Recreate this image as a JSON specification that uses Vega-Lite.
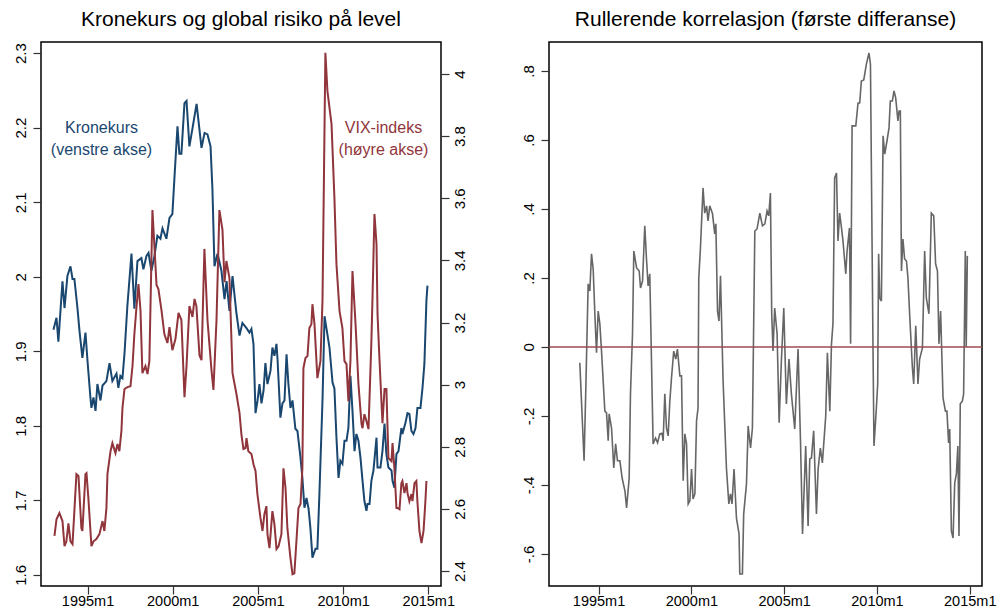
{
  "$schema": "https://vega.github.io/schema/vega-lite/v6.json",
  "background": "white",
  "padding": {"left": 12, "top": 8, "right": 15, "bottom": 0},
  "bounds": "flush",
  "spacing": 108,
  "config": {
    "font": "Liberation Sans",
    "view": {"stroke": "black", "strokeWidth": 1.5},
    "axis": {"grid": false, "domain": false, "tickColor": "#333333", "tickWidth": 1.2, "tickSize": 8, "labelFontSize": 15, "labelColor": "black", "labelFont": "Liberation Sans", "labelOverlap": false, "labelFlush": false, "labelBound": false},
    "axisX": {"labelBaseline": "alphabetic", "labelPadding": 11, "labelFontSize": 14.5},
    "title": {"fontSize": 21, "font": "Liberation Sans", "fontWeight": "normal", "color": "black", "anchor": "middle", "offset": 12}
  },
  "datasets": {
    "kron": [
      {"t":1993.00,"v":1.929},{"t":1993.18,"v":1.945},{"t":1993.29,"v":1.913},{"t":1993.53,"v":1.994},{"t":1993.65,"v":1.958},{"t":1993.82,"v":2.001},{"t":1994.00,"v":2.014},{"t":1994.12,"v":1.997},{"t":1994.23,"v":1.997},{"t":1994.41,"v":1.958},{"t":1994.53,"v":1.927},{"t":1994.70,"v":1.891},{"t":1994.88,"v":1.925},{"t":1995.00,"v":1.887},{"t":1995.17,"v":1.838},{"t":1995.23,"v":1.824},{"t":1995.35,"v":1.838},{"t":1995.47,"v":1.820},{"t":1995.58,"v":1.856},{"t":1995.76,"v":1.834},{"t":1995.88,"v":1.854},{"t":1996.11,"v":1.860},{"t":1996.29,"v":1.884},{"t":1996.46,"v":1.860},{"t":1996.70,"v":1.870},{"t":1996.81,"v":1.851},{"t":1996.93,"v":1.867},{"t":1997.05,"v":1.864},{"t":1997.17,"v":1.897},{"t":1997.34,"v":1.961},{"t":1997.58,"v":2.031},{"t":1997.75,"v":1.957},{"t":1997.93,"v":2.021},{"t":1998.16,"v":2.025},{"t":1998.28,"v":2.010},{"t":1998.46,"v":2.028},{"t":1998.58,"v":2.032},{"t":1998.75,"v":2.008},{"t":1998.93,"v":2.028},{"t":1999.10,"v":2.055},{"t":1999.28,"v":2.051},{"t":1999.40,"v":2.065},{"t":1999.63,"v":2.051},{"t":1999.81,"v":2.079},{"t":1999.98,"v":2.084},{"t":2000.10,"v":2.132},{"t":2000.28,"v":2.202},{"t":2000.39,"v":2.165},{"t":2000.51,"v":2.165},{"t":2000.69,"v":2.233},{"t":2000.81,"v":2.236},{"t":2000.98,"v":2.175},{"t":2001.16,"v":2.199},{"t":2001.40,"v":2.232},{"t":2001.45,"v":2.222},{"t":2001.69,"v":2.173},{"t":2001.87,"v":2.193},{"t":2002.04,"v":2.191},{"t":2002.22,"v":2.175},{"t":2002.33,"v":2.118},{"t":2002.45,"v":2.014},{"t":2002.63,"v":2.031},{"t":2002.86,"v":2.008},{"t":2003.04,"v":1.970},{"t":2003.16,"v":1.994},{"t":2003.33,"v":1.954},{"t":2003.51,"v":2.001},{"t":2003.74,"v":1.951},{"t":2003.92,"v":1.921},{"t":2004.09,"v":1.938},{"t":2004.33,"v":1.931},{"t":2004.50,"v":1.925},{"t":2004.62,"v":1.930},{"t":2004.74,"v":1.910},{"t":2004.86,"v":1.817},{"t":2004.98,"v":1.834},{"t":2005.09,"v":1.856},{"t":2005.21,"v":1.830},{"t":2005.33,"v":1.847},{"t":2005.44,"v":1.884},{"t":2005.56,"v":1.856},{"t":2005.74,"v":1.874},{"t":2005.85,"v":1.905},{"t":2005.97,"v":1.894},{"t":2006.09,"v":1.910},{"t":2006.15,"v":1.890},{"t":2006.32,"v":1.811},{"t":2006.44,"v":1.830},{"t":2006.56,"v":1.834},{"t":2006.68,"v":1.896},{"t":2006.79,"v":1.856},{"t":2006.91,"v":1.824},{"t":2007.03,"v":1.834},{"t":2007.20,"v":1.796},{"t":2007.32,"v":1.793},{"t":2007.50,"v":1.757},{"t":2007.61,"v":1.730},{"t":2007.73,"v":1.690},{"t":2007.85,"v":1.703},{"t":2007.97,"v":1.689},{"t":2008.08,"v":1.663},{"t":2008.20,"v":1.623},{"t":2008.38,"v":1.635},{"t":2008.49,"v":1.635},{"t":2008.61,"v":1.709},{"t":2008.79,"v":1.834},{"t":2008.91,"v":1.947},{"t":2009.02,"v":1.931},{"t":2009.20,"v":1.905},{"t":2009.38,"v":1.858},{"t":2009.49,"v":1.850},{"t":2009.61,"v":1.784},{"t":2009.73,"v":1.730},{"t":2009.84,"v":1.753},{"t":2009.96,"v":1.749},{"t":2010.08,"v":1.780},{"t":2010.20,"v":1.780},{"t":2010.31,"v":1.797},{"t":2010.43,"v":1.867},{"t":2010.55,"v":1.820},{"t":2010.67,"v":1.766},{"t":2010.78,"v":1.789},{"t":2010.90,"v":1.780},{"t":2011.02,"v":1.757},{"t":2011.14,"v":1.726},{"t":2011.25,"v":1.699},{"t":2011.37,"v":1.686},{"t":2011.43,"v":1.695},{"t":2011.55,"v":1.695},{"t":2011.66,"v":1.726},{"t":2011.78,"v":1.740},{"t":2011.96,"v":1.784},{"t":2012.02,"v":1.744},{"t":2012.19,"v":1.744},{"t":2012.31,"v":1.766},{"t":2012.43,"v":1.803},{"t":2012.54,"v":1.762},{"t":2012.66,"v":1.744},{"t":2012.84,"v":1.740},{"t":2012.90,"v":1.726},{"t":2013.01,"v":1.717},{"t":2013.13,"v":1.762},{"t":2013.25,"v":1.766},{"t":2013.42,"v":1.797},{"t":2013.48,"v":1.789},{"t":2013.66,"v":1.804},{"t":2013.78,"v":1.817},{"t":2013.89,"v":1.816},{"t":2014.01,"v":1.793},{"t":2014.13,"v":1.789},{"t":2014.25,"v":1.797},{"t":2014.36,"v":1.824},{"t":2014.54,"v":1.824},{"t":2014.66,"v":1.851},{"t":2014.77,"v":1.883},{"t":2014.89,"v":1.968},{"t":2014.95,"v":1.988}
    ],
    "vix": [
      {"t":1993.06,"v":2.513},{"t":1993.18,"v":2.567},{"t":1993.35,"v":2.587},{"t":1993.53,"v":2.561},{"t":1993.65,"v":2.480},{"t":1993.76,"v":2.496},{"t":1993.88,"v":2.554},{"t":1994.00,"v":2.496},{"t":1994.12,"v":2.487},{"t":1994.35,"v":2.712},{"t":1994.47,"v":2.706},{"t":1994.64,"v":2.538},{"t":1994.70,"v":2.529},{"t":1994.88,"v":2.712},{"t":1994.94,"v":2.715},{"t":1995.05,"v":2.635},{"t":1995.23,"v":2.480},{"t":1995.35,"v":2.496},{"t":1995.52,"v":2.503},{"t":1995.70,"v":2.519},{"t":1995.88,"v":2.561},{"t":1995.99,"v":2.529},{"t":1996.11,"v":2.603},{"t":1996.17,"v":2.712},{"t":1996.35,"v":2.786},{"t":1996.46,"v":2.812},{"t":1996.64,"v":2.780},{"t":1996.76,"v":2.809},{"t":1996.87,"v":2.786},{"t":1996.99,"v":2.851},{"t":1997.05,"v":2.925},{"t":1997.17,"v":2.986},{"t":1997.34,"v":2.992},{"t":1997.52,"v":2.995},{"t":1997.64,"v":3.060},{"t":1997.75,"v":3.163},{"t":1997.87,"v":3.247},{"t":1997.99,"v":3.324},{"t":1998.11,"v":3.237},{"t":1998.22,"v":3.037},{"t":1998.40,"v":3.060},{"t":1998.52,"v":3.034},{"t":1998.63,"v":3.076},{"t":1998.81,"v":3.562},{"t":1999.05,"v":3.321},{"t":1999.16,"v":3.308},{"t":1999.34,"v":3.240},{"t":1999.51,"v":3.163},{"t":1999.69,"v":3.134},{"t":1999.81,"v":3.185},{"t":1999.98,"v":3.111},{"t":2000.16,"v":3.147},{"t":2000.34,"v":3.231},{"t":2000.51,"v":3.208},{"t":2000.69,"v":2.960},{"t":2000.81,"v":3.060},{"t":2000.98,"v":3.253},{"t":2001.16,"v":3.218},{"t":2001.28,"v":3.276},{"t":2001.39,"v":3.253},{"t":2001.57,"v":3.095},{"t":2001.69,"v":3.079},{"t":2001.86,"v":3.437},{"t":2002.04,"v":3.208},{"t":2002.27,"v":3.050},{"t":2002.39,"v":2.983},{"t":2002.57,"v":3.208},{"t":2002.74,"v":3.562},{"t":2002.92,"v":3.498},{"t":2003.04,"v":3.330},{"t":2003.15,"v":3.398},{"t":2003.33,"v":3.343},{"t":2003.51,"v":3.037},{"t":2003.74,"v":2.970},{"t":2003.92,"v":2.909},{"t":2004.03,"v":2.841},{"t":2004.15,"v":2.793},{"t":2004.27,"v":2.796},{"t":2004.33,"v":2.828},{"t":2004.44,"v":2.786},{"t":2004.62,"v":2.777},{"t":2004.74,"v":2.744},{"t":2004.86,"v":2.722},{"t":2004.97,"v":2.648},{"t":2005.15,"v":2.571},{"t":2005.27,"v":2.529},{"t":2005.38,"v":2.583},{"t":2005.50,"v":2.609},{"t":2005.56,"v":2.519},{"t":2005.68,"v":2.474},{"t":2005.85,"v":2.593},{"t":2005.97,"v":2.551},{"t":2006.09,"v":2.471},{"t":2006.21,"v":2.480},{"t":2006.38,"v":2.519},{"t":2006.50,"v":2.731},{"t":2006.62,"v":2.667},{"t":2006.73,"v":2.538},{"t":2006.91,"v":2.442},{"t":2007.03,"v":2.390},{"t":2007.14,"v":2.393},{"t":2007.26,"v":2.496},{"t":2007.38,"v":2.603},{"t":2007.50,"v":2.616},{"t":2007.61,"v":2.731},{"t":2007.67,"v":3.053},{"t":2007.79,"v":3.086},{"t":2007.91,"v":3.092},{"t":2008.02,"v":3.182},{"t":2008.14,"v":3.195},{"t":2008.20,"v":3.259},{"t":2008.32,"v":3.195},{"t":2008.49,"v":3.021},{"t":2008.67,"v":3.076},{"t":2008.79,"v":3.269},{"t":2008.96,"v":4.068},{"t":2009.08,"v":3.945},{"t":2009.32,"v":3.839},{"t":2009.49,"v":3.601},{"t":2009.61,"v":3.388},{"t":2009.79,"v":3.237},{"t":2009.96,"v":3.182},{"t":2010.08,"v":3.076},{"t":2010.20,"v":3.066},{"t":2010.31,"v":2.947},{"t":2010.43,"v":3.076},{"t":2010.55,"v":3.366},{"t":2010.72,"v":3.205},{"t":2010.78,"v":3.140},{"t":2010.90,"v":3.002},{"t":2011.08,"v":2.873},{"t":2011.14,"v":2.860},{"t":2011.25,"v":2.905},{"t":2011.37,"v":2.883},{"t":2011.49,"v":2.857},{"t":2011.66,"v":3.140},{"t":2011.72,"v":3.269},{"t":2011.84,"v":3.549},{"t":2011.96,"v":3.453},{"t":2012.02,"v":3.227},{"t":2012.13,"v":3.086},{"t":2012.31,"v":2.876},{"t":2012.43,"v":2.986},{"t":2012.54,"v":2.986},{"t":2012.66,"v":2.764},{"t":2012.84,"v":2.754},{"t":2012.90,"v":2.812},{"t":2013.01,"v":2.731},{"t":2013.13,"v":2.603},{"t":2013.19,"v":2.603},{"t":2013.31,"v":2.599},{"t":2013.42,"v":2.683},{"t":2013.48,"v":2.690},{"t":2013.60,"v":2.651},{"t":2013.72,"v":2.683},{"t":2013.78,"v":2.651},{"t":2013.89,"v":2.625},{"t":2014.01,"v":2.648},{"t":2014.07,"v":2.625},{"t":2014.19,"v":2.683},{"t":2014.30,"v":2.690},{"t":2014.36,"v":2.625},{"t":2014.48,"v":2.529},{"t":2014.60,"v":2.490},{"t":2014.72,"v":2.529},{"t":2014.83,"v":2.625},{"t":2014.89,"v":2.690}
    ],
    "corr": [
      {"t":1993.99,"v":-0.046},{"t":1994.22,"v":-0.330},{"t":1994.32,"v":-0.107},{"t":1994.44,"v":0.183},{"t":1994.53,"v":0.162},{"t":1994.62,"v":0.270},{"t":1994.71,"v":0.226},{"t":1994.80,"v":0.096},{"t":1994.89,"v":-0.017},{"t":1994.98,"v":0.104},{"t":1995.07,"v":0.067},{"t":1995.16,"v":-0.012},{"t":1995.34,"v":-0.186},{"t":1995.43,"v":-0.191},{"t":1995.52,"v":-0.272},{"t":1995.57,"v":-0.194},{"t":1995.70,"v":-0.235},{"t":1995.82,"v":-0.351},{"t":1995.92,"v":-0.281},{"t":1996.02,"v":-0.330},{"t":1996.15,"v":-0.330},{"t":1996.27,"v":-0.380},{"t":1996.42,"v":-0.417},{"t":1996.51,"v":-0.467},{"t":1996.65,"v":-0.380},{"t":1996.72,"v":-0.136},{"t":1996.83,"v":0.038},{"t":1996.90,"v":0.278},{"t":1997.05,"v":0.229},{"t":1997.19,"v":0.220},{"t":1997.26,"v":0.171},{"t":1997.37,"v":0.191},{"t":1997.49,"v":0.351},{"t":1997.58,"v":0.258},{"t":1997.67,"v":0.177},{"t":1997.76,"v":0.212},{"t":1997.94,"v":-0.281},{"t":1998.07,"v":-0.264},{"t":1998.18,"v":-0.278},{"t":1998.30,"v":-0.252},{"t":1998.42,"v":-0.250},{"t":1998.48,"v":-0.272},{"t":1998.57,"v":-0.136},{"t":1998.66,"v":-0.235},{"t":1998.75,"v":-0.258},{"t":1998.84,"v":-0.157},{"t":1998.93,"v":-0.090},{"t":1999.05,"v":-0.012},{"t":1999.16,"v":-0.035},{"t":1999.25,"v":-0.006},{"t":1999.38,"v":-0.084},{"t":1999.47,"v":-0.084},{"t":1999.56,"v":-0.388},{"t":1999.65,"v":-0.252},{"t":1999.74,"v":-0.281},{"t":1999.83,"v":-0.455},{"t":1999.92,"v":-0.446},{"t":2000.01,"v":-0.354},{"t":2000.09,"v":-0.441},{"t":2000.19,"v":-0.426},{"t":2000.28,"v":-0.214},{"t":2000.36,"v":-0.177},{"t":2000.40,"v":0.200},{"t":2000.49,"v":0.287},{"t":2000.63,"v":0.461},{"t":2000.72,"v":0.388},{"t":2000.82,"v":0.409},{"t":2000.90,"v":0.365},{"t":2000.99,"v":0.409},{"t":2001.14,"v":0.386},{"t":2001.26,"v":0.328},{"t":2001.32,"v":0.357},{"t":2001.41,"v":0.104},{"t":2001.49,"v":0.075},{"t":2001.57,"v":0.206},{"t":2001.71,"v":-0.099},{"t":2001.89,"v":-0.351},{"t":2002.02,"v":-0.455},{"t":2002.11,"v":-0.426},{"t":2002.19,"v":-0.455},{"t":2002.30,"v":-0.354},{"t":2002.43,"v":-0.496},{"t":2002.57,"v":-0.542},{"t":2002.61,"v":-0.658},{"t":2002.75,"v":-0.658},{"t":2002.82,"v":-0.484},{"t":2002.97,"v":-0.397},{"t":2003.06,"v":-0.229},{"t":2003.19,"v":-0.293},{"t":2003.29,"v":-0.235},{"t":2003.42,"v":0.336},{"t":2003.54,"v":0.342},{"t":2003.69,"v":0.388},{"t":2003.83,"v":0.351},{"t":2003.96,"v":0.357},{"t":2004.08,"v":0.394},{"t":2004.17,"v":0.380},{"t":2004.26,"v":0.446},{"t":2004.33,"v":0.096},{"t":2004.40,"v":-0.012},{"t":2004.49,"v":0.113},{"t":2004.62,"v":0.038},{"t":2004.73,"v":-0.220},{"t":2004.85,"v":-0.041},{"t":2004.98,"v":0.113},{"t":2005.12,"v":-0.165},{"t":2005.26,"v":-0.035},{"t":2005.39,"v":-0.136},{"t":2005.57,"v":-0.238},{"t":2005.75,"v":-0.006},{"t":2005.88,"v":-0.272},{"t":2005.99,"v":-0.542},{"t":2006.16,"v":-0.287},{"t":2006.29,"v":-0.519},{"t":2006.38,"v":-0.325},{"t":2006.47,"v":-0.322},{"t":2006.59,"v":-0.243},{"t":2006.74,"v":-0.484},{"t":2006.83,"v":-0.354},{"t":2006.95,"v":-0.293},{"t":2007.06,"v":-0.336},{"t":2007.24,"v":-0.200},{"t":2007.33,"v":-0.017},{"t":2007.46,"v":-0.186},{"t":2007.55,"v":0.009},{"t":2007.63,"v":0.067},{"t":2007.72,"v":0.490},{"t":2007.82,"v":0.504},{"t":2007.90,"v":0.307},{"t":2007.99,"v":0.388},{"t":2008.09,"v":0.345},{"t":2008.17,"v":0.307},{"t":2008.32,"v":0.212},{"t":2008.39,"v":0.278},{"t":2008.52,"v":0.345},{"t":2008.58,"v":0.009},{"t":2008.66,"v":0.641},{"t":2008.86,"v":0.641},{"t":2008.98,"v":0.707},{"t":2009.07,"v":0.707},{"t":2009.16,"v":0.771},{"t":2009.29,"v":0.774},{"t":2009.43,"v":0.820},{"t":2009.57,"v":0.852},{"t":2009.65,"v":0.820},{"t":2009.79,"v":-0.020},{"t":2009.84,"v":-0.287},{"t":2009.97,"v":-0.177},{"t":2010.04,"v":-0.107},{"t":2010.09,"v":0.270},{"t":2010.15,"v":0.142},{"t":2010.24,"v":0.133},{"t":2010.33,"v":0.612},{"t":2010.42,"v":0.559},{"t":2010.54,"v":0.597},{"t":2010.65,"v":0.635},{"t":2010.72,"v":0.713},{"t":2010.83,"v":0.713},{"t":2010.92,"v":0.742},{"t":2011.01,"v":0.722},{"t":2011.13,"v":0.655},{"t":2011.19,"v":0.684},{"t":2011.26,"v":0.684},{"t":2011.32,"v":0.220},{"t":2011.40,"v":0.313},{"t":2011.49,"v":0.255},{"t":2011.59,"v":0.249},{"t":2011.67,"v":0.200},{"t":2011.76,"v":0.096},{"t":2011.91,"v":-0.061},{"t":2011.98,"v":-0.107},{"t":2012.09,"v":0.061},{"t":2012.21,"v":-0.107},{"t":2012.30,"v":-0.035},{"t":2012.45,"v":-0.003},{"t":2012.57,"v":0.278},{"t":2012.66,"v":0.142},{"t":2012.80,"v":0.096},{"t":2012.93,"v":0.388},{"t":2013.06,"v":0.380},{"t":2013.16,"v":0.241},{"t":2013.26,"v":0.220},{"t":2013.34,"v":0.009},{"t":2013.43,"v":0.104},{"t":2013.56,"v":-0.148},{"t":2013.69,"v":-0.186},{"t":2013.77,"v":-0.186},{"t":2013.86,"v":-0.278},{"t":2013.92,"v":-0.238},{"t":2014.01,"v":-0.533},{"t":2014.10,"v":-0.554},{"t":2014.19,"v":-0.394},{"t":2014.28,"v":-0.368},{"t":2014.36,"v":-0.287},{"t":2014.42,"v":-0.548},{"t":2014.49,"v":-0.165},{"t":2014.60,"v":-0.157},{"t":2014.67,"v":-0.136},{"t":2014.76,"v":0.278},{"t":2014.81,"v":0.000},{"t":2014.87,"v":0.264}
    ],
    "notes": [
      {"t":1995.82,"v":2.1933,"label":"Kronekurs","s":"k"},
      {"t":1995.82,"v":2.164,"label":"(venstre akse)","s":"k"},
      {"t":2012.37,"v":2.1933,"label":"VIX-indeks","s":"v"},
      {"t":2012.37,"v":2.164,"label":"(høyre akse)","s":"v"}
    ]
  },
  "hconcat": [
    {
      "title": "Kronekurs og global risiko på level",
      "width": 400,
      "height": 544,
      "layer": [
        {
          "data": {"name": "kron"},
          "mark": {"type": "line", "color": "#1a476f", "strokeWidth": 2},
          "encoding": {
            "x": {"field": "t", "type": "quantitative", "scale": {"domain": [1992.27, 2015.745], "nice": false, "zero": false}, "axis": {"values": [1995, 2000, 2005, 2010, 2015], "labelExpr": "datum.value + 'm1'", "title": null}},
            "y": {"field": "v", "type": "quantitative", "scale": {"domain": [1.585, 2.315], "nice": false, "zero": false}, "axis": {"orient": "left", "values": [1.6, 1.7, 1.8, 1.9, 2, 2.1, 2.2, 2.3], "format": "~g", "labelAngle": -90, "labelAlign": "center", "labelBaseline": "alphabetic", "labelPadding": 8, "title": null}}
          }
        },
        {
          "data": {"name": "notes"},
          "mark": {"type": "text", "fontSize": 16, "align": "center", "baseline": "alphabetic", "font": "Liberation Sans"},
          "encoding": {
            "x": {"field": "t", "type": "quantitative", "scale": {"domain": [1992.27, 2015.745], "nice": false, "zero": false}, "axis": {"values": [1995, 2000, 2005, 2010, 2015], "labelExpr": "datum.value + 'm1'", "title": null}},
            "y": {"field": "v", "type": "quantitative", "scale": {"domain": [1.585, 2.315], "nice": false, "zero": false}, "axis": null},
            "text": {"field": "label"},
            "color": {"field": "s", "type": "nominal", "scale": {"domain": ["k", "v"], "range": ["#1a476f", "#90353b"]}, "legend": null}
          }
        },
        {
          "data": {"name": "vix"},
          "mark": {"type": "line", "color": "#90353b", "strokeWidth": 2},
          "encoding": {
            "x": {"field": "t", "type": "quantitative", "scale": {"domain": [1992.27, 2015.745], "nice": false, "zero": false}, "axis": {"values": [1995, 2000, 2005, 2010, 2015], "labelExpr": "datum.value + 'm1'", "title": null}},
            "y": {"field": "v", "type": "quantitative", "scale": {"domain": [2.352, 4.103], "nice": false, "zero": false}, "axis": {"orient": "right", "values": [2.4, 2.6, 2.8, 3, 3.2, 3.4, 3.6, 3.8, 4], "format": "~g", "labelAngle": -90, "labelAlign": "center", "labelBaseline": "top", "labelPadding": 3, "title": null}}
          }
        }
      ],
      "resolve": {"scale": {"y": "independent"}}
    },
    {
      "title": "Rullerende korrelasjon (første differanse)",
      "width": 433,
      "height": 544,
      "layer": [
        {
          "data": {"name": "corr"},
          "mark": {"type": "line", "color": "#666666", "strokeWidth": 1.6},
          "encoding": {
            "x": {"field": "t", "type": "quantitative", "scale": {"domain": [1992.33, 2015.66], "nice": false, "zero": false}, "axis": {"values": [1995, 2000, 2005, 2010, 2015], "labelExpr": "datum.value + 'm1'", "title": null}},
            "y": {"field": "v", "type": "quantitative", "scale": {"domain": [-0.693, 0.884], "nice": false, "zero": false}, "axis": {"values": [-0.6, -0.4, -0.2, 0, 0.2, 0.4, 0.6, 0.8], "labelExpr": "datum.value == 0 ? '0' : (datum.value < 0 ? '-' : '') + '.' + format(abs(datum.value) * 10, '.0f')", "labelAngle": -90, "labelAlign": "center", "labelBaseline": "alphabetic", "labelPadding": 8, "title": null}}
          }
        },
        {
          "data": {"values": [{"v": 0}]},
          "mark": {"type": "rule", "color": "#a04a52", "strokeWidth": 1.6},
          "encoding": {
            "y": {"field": "v", "type": "quantitative", "scale": {"domain": [-0.693, 0.884], "nice": false, "zero": false}, "axis": {"values": [-0.6, -0.4, -0.2, 0, 0.2, 0.4, 0.6, 0.8], "labelExpr": "datum.value == 0 ? '0' : (datum.value < 0 ? '-' : '') + '.' + format(abs(datum.value) * 10, '.0f')", "labelAngle": -90, "labelAlign": "center", "labelBaseline": "alphabetic", "labelPadding": 8, "title": null}}
          }
        }
      ]
    }
  ]
}
